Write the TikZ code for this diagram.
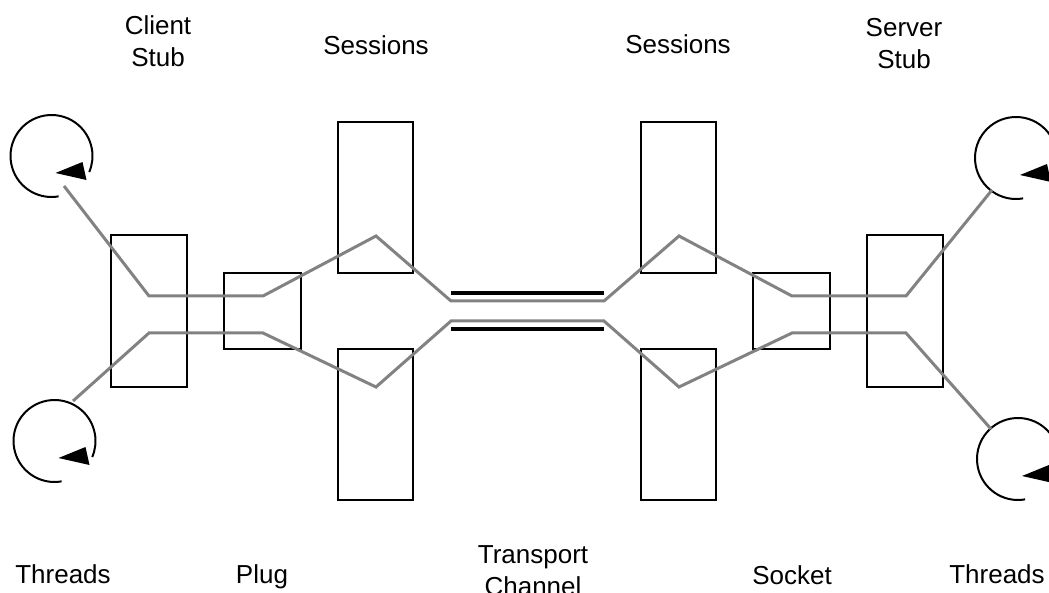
\documentclass[tikz,border=0pt]{standalone}
\usepackage{fontspec}
\setmainfont{Liberation Sans}
\begin{document}
\begin{tikzpicture}[x=1pt,y=-1pt,
  box/.style={draw=black,line width=2pt,inner sep=0pt,outer sep=0pt},
  wire/.style={draw={rgb,255:red,130;green,130;blue,130},line width=3pt,line join=miter},
  chan/.style={draw=black,line width=3.2pt},
  lbl/.style={font=\fontsize{26}{32}\selectfont,align=center,inner sep=0pt},
  thread/.pic={
    \draw[line width=2pt] (80:41) arc[start angle=80,end angle=383,radius=41];
    \fill (4,17) -- (31,6) -- (35,24) -- cycle;
  }]
\useasboundingbox (0,0) rectangle (1049,593);
\clip (0,0) rectangle (1049,593);

% boxes: stubs, plug/socket, sessions
\node[box,minimum width=76,minimum height=152] (cstub) at (149,311) {};
\node[box,minimum width=77,minimum height=76] (plug) at (262.5,311) {};
\node[box,minimum width=75,minimum height=151] (sesLT) at (375.5,197.5) {};
\node[box,minimum width=75,minimum height=151] (sesLB) at (375.5,424.5) {};
\node[box,minimum width=75,minimum height=151] (sesRT) at (678.5,197.5) {};
\node[box,minimum width=75,minimum height=151] (sesRB) at (678.5,424.5) {};
\node[box,minimum width=77,minimum height=76] (socket) at (791.5,311) {};
\node[box,minimum width=76,minimum height=152] (sstub) at (905,311) {};

% thread symbols
\pic at (51.5,156) {thread};
\pic at (54.5,441) {thread};
\pic at (1016,158) {thread};
\pic at (1018,459) {thread};

% transport channel
\coordinate (chTL) at (451,293);
\coordinate (chTR) at (604,293);
\coordinate (chBL) at (451,329);
\coordinate (chBR) at (604,329);
\draw[chan] (chTL) -- (chTR);
\draw[chan] (chBL) -- (chBR);

% upper call path
\coordinate (u0) at (64,186);
\coordinate (u1) at (149,296);
\coordinate (u2) at (263,296);
\coordinate (u3) at (376,236);
\coordinate (u4) at (451,301);
\coordinate (u5) at (604,301);
\coordinate (u6) at (679,236);
\coordinate (u7) at (792,296);
\coordinate (u8) at (906,296);
\coordinate (u9) at (992,190);
\draw[wire] (u0) -- (u1) -- (u2) -- (u3) -- (u4) -- (u5) -- (u6) -- (u7) -- (u8) -- (u9);

% lower call path
\coordinate (l0) at (73,401);
\coordinate (l1) at (149,333);
\coordinate (l2) at (263,333);
\coordinate (l3) at (376,387);
\coordinate (l4) at (451,321);
\coordinate (l5) at (604,321);
\coordinate (l6) at (679,387);
\coordinate (l7) at (792,333);
\coordinate (l8) at (906,333);
\coordinate (l9) at (991,429);
\draw[wire] (l0) -- (l1) -- (l2) -- (l3) -- (l4) -- (l5) -- (l6) -- (l7) -- (l8) -- (l9);

% labels (base anchor sits on the last line)
\node[lbl,anchor=base] (tCS) at (158,67) {Client\\Stub};
\node[lbl,anchor=base] (tSL) at (376,55) {Sessions};
\node[lbl,anchor=base] (tSR) at (678,54) {Sessions};
\node[lbl,anchor=base] (tSS) at (904,69) {Server\\Stub};
\node[lbl,anchor=base] (tTL) at (63,583) {Threads};
\node[lbl,anchor=base] (tPl) at (262,583) {Plug};
\node[lbl,anchor=base] (tTC) at (533,595) {Transport\\Channel};
\node[lbl,anchor=base] (tSo) at (792,584) {Socket};
\node[lbl,anchor=base] (tTR) at (997,583) {Threads};
\end{tikzpicture}
\end{document}
